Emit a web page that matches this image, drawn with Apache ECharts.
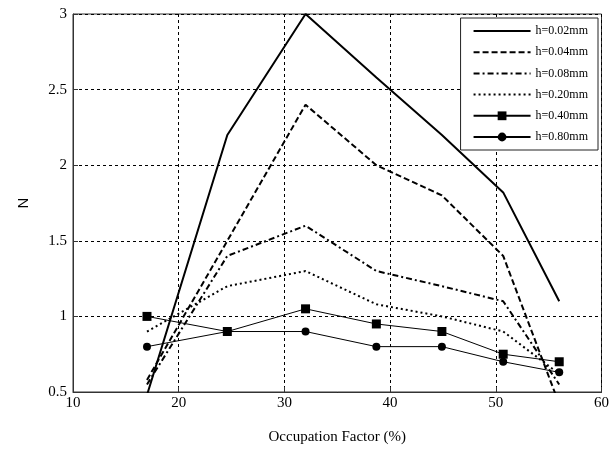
<!DOCTYPE html>
<html>
<head>
<meta charset="utf-8">
<script src="https://cdn.jsdelivr.net/npm/echarts@6/dist/echarts.min.js"></script>
<style>
  html, body { margin: 0; padding: 0; background: #fff; }
  #chart { width: 612px; height: 451px; }
</style>
</head>
<body>
<div id="chart"></div>
<script>
// occupation factor (%) for every series
const occupation = [17, 24.6, 32, 38.7, 44.9, 50.7, 56]

// N values (values below 0.5 are clipped by the axis)
const h002 = [0.48, 2.2, 3.0, 2.58, 2.2, 1.82, 1.1]
const h004 = [0.58, 1.5, 2.4, 2.0, 1.8, 1.4, 0.42]
const h008 = [0.55, 1.4, 1.6, 1.3, 1.2, 1.1, 0.55]
const h020 = [0.9, 1.2, 1.3, 1.08, 1.0, 0.9, 0.62]
const h040 = [1.0, 0.9, 1.05, 0.95, 0.9, 0.75, 0.7]
const h080 = [0.8, 0.9, 0.9, 0.8, 0.8, 0.7, 0.63]

const seriesNames = ['h=0.02mm', 'h=0.04mm', 'h=0.08mm', 'h=0.20mm', 'h=0.40mm', 'h=0.80mm']

const pair = (ys) => occupation.map((x, i) => [x, ys[i]])

const chart = echarts.init(document.getElementById('chart'))

const serif = '"Liberation Serif", "Times New Roman", serif'

function lineSeries(name, ys, lineType, width, symbol, symbolSize) {
  return {
    name: name,
    type: 'line',
    data: pair(ys),
    clip: true,
    symbol: symbol || 'none',
    symbolSize: symbolSize || 0,
    showSymbol: !!symbol,
    itemStyle: { color: '#000' },
    lineStyle: { color: '#000', width: width, type: lineType, cap: 'butt' },
    animation: false
  }
}

// 图例：无标记的线条隐藏图例里的符号
const legendData = seriesNames.map((name, i) => (
  i < 4 ? { name: name, itemStyle: { opacity: 0 } } : { name: name }
))

const option = {
  backgroundColor: '#fff',
  grid: {
    left: 73,
    right: 10,
    top: 14,
    bottom: 59,
    show: true,
    borderColor: '#333',
    borderWidth: 1
  },
  legend: {
    orient: 'vertical',
    right: 14,
    top: 18,
    itemWidth: 57,
    itemHeight: 11,
    itemGap: 9.2,
    padding: [7, 10, 7, 12],
    borderColor: '#222',
    borderWidth: 1,
    backgroundColor: '#fff',
    data: legendData,
    textStyle: { fontFamily: serif, fontSize: 12, color: '#000' }
  },
  xAxis: {
    type: 'value',
    min: 10,
    max: 60,
    interval: 10,
    name: 'Occupation Factor (%)',
    nameLocation: 'middle',
    nameGap: 38,
    nameTextStyle: { fontFamily: serif, fontSize: 15, color: '#000' },
    axisLine: { show: true, lineStyle: { color: '#333', width: 1 } },
    axisTick: { show: true, inside: true, length: 5, lineStyle: { color: '#333' } },
    axisLabel: { fontFamily: serif, fontSize: 15, color: '#000', margin: 4 },
    splitLine: { show: true, lineStyle: { color: '#000', type: [3, 3], width: 1 } }
  },
  yAxis: {
    type: 'value',
    min: 0.5,
    max: 3,
    interval: 0.5,
    name: 'N',
    nameLocation: 'middle',
    nameGap: 42,
    nameTextStyle: { fontFamily: '"Liberation Sans", Arial, sans-serif', fontSize: 15, color: '#000' },
    axisLine: { show: true, lineStyle: { color: '#333', width: 1 } },
    axisTick: { show: true, inside: true, length: 5, lineStyle: { color: '#333' } },
    axisLabel: { fontFamily: serif, fontSize: 15, color: '#000', margin: 6 },
    splitLine: { show: true, lineStyle: { color: '#000', type: [3, 3], width: 1 } }
  },
  series: [
    lineSeries(seriesNames[0], h002, 'solid', 2),
    lineSeries(seriesNames[1], h004, [6, 3], 2),
    lineSeries(seriesNames[2], h008, [6, 3, 2, 3], 2),
    lineSeries(seriesNames[3], h020, [2, 3], 2),
    lineSeries(seriesNames[4], h040, 'solid', 1, 'rect', 9),
    lineSeries(seriesNames[5], h080, 'solid', 1, 'circle', 8)
  ]
}

chart.setOption(option)
</script>
</body>
</html>
